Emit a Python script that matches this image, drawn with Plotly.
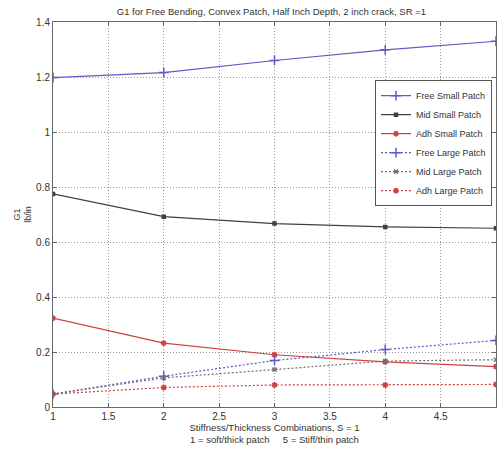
import plotly.graph_objects as go

x_vals = [1, 2, 3, 4, 5]
free_small = [1.198, 1.216, 1.260, 1.299, 1.330]
mid_small = [0.775, 0.692, 0.667, 0.655, 0.650]
adh_small = [0.323, 0.232, 0.190, 0.164, 0.147]
free_large = [0.047, 0.112, 0.169, 0.209, 0.242]
mid_large = [0.047, 0.106, 0.136, 0.167, 0.172]
adh_large = [0.047, 0.071, 0.080, 0.080, 0.082]

names = ["Free Small Patch", "Mid Small Patch", "Adh Small Patch",
         "Free Large Patch", "Mid Large Patch", "Adh Large Patch"]
series = [free_small, mid_small, adh_small, free_large, mid_large, adh_large]

BLUE = "#5a5ac8"
BLACK = "#404040"
RED = "#d04040"
colors = [BLUE, BLACK, RED, BLUE, "#707070", RED]
dashes = ["solid", "solid", "solid", "2px,2px", "2px,2px", "2px,2px"]
symbols = ["cross-thin-open", "square", "asterisk-open",
           "cross-thin-open", "x-thin-open", "asterisk-open"]
sizes = [7, 3, 5, 7, 4, 5]

fig = go.Figure()
for name, ys, c, d, s, sz in zip(names, series, colors, dashes, symbols, sizes):
    fig.add_trace(go.Scatter(
        x=x_vals, y=ys, name=name, mode="lines+markers",
        line=dict(color=c, width=1.2, dash=d),
        marker=dict(symbol=s, size=sz, color=c, line=dict(color=c, width=1.5)),
    ))

font = dict(family="Liberation Sans, Arial, sans-serif", size=10, color="#333333")

fig.update_layout(
    width=498, height=449,
    margin=dict(l=53, r=2, t=22, b=42, autoexpand=False),
    paper_bgcolor="white", plot_bgcolor="white",
    font=font,
    title=dict(text="G1 for Free Bending, Convex Patch, Half Inch Depth, 2 inch crack, SR =1",
               x=0.545, xanchor="center", y=0.982, yanchor="top",
               font=dict(size=9.5, color="#333333")),
    showlegend=True,
    legend=dict(x=0.991, y=0.849, xanchor="right", yanchor="top",
                bgcolor="white", bordercolor="#555555", borderwidth=1,
                font=dict(size=9, color="#333333"),
                tracegroupgap=0, itemwidth=30),
)

grid_kw = dict(showgrid=True, gridcolor="#9a9a9a", griddash="1px,2px", gridwidth=1,
               showline=True, linecolor="#666666", linewidth=1, mirror="ticks",
               ticks="inside", ticklen=4, tickcolor="#666666", automargin=False,
               zeroline=False, tickfont=dict(size=10, color="#333333"))

fig.update_xaxes(
    range=[1, 5], tickmode="array",
    tickvals=[1, 1.5, 2, 2.5, 3, 3.5, 4, 4.5, 5],
    ticktext=["1", "1.5", "2", "2.5", "3", "3.5", "4", "4.5", "5"],
    title=dict(text="Stiffness/Thickness Combinations, S = 1<br>1 = soft/thick patch     5 = Stiff/thin patch",
               font=dict(size=9.5, color="#333333"), standoff=0),
    **grid_kw,
)
fig.update_yaxes(
    range=[0, 1.4], tickmode="array",
    tickvals=[0, 0.2, 0.4, 0.6, 0.8, 1, 1.2, 1.4],
    ticktext=["0", "0.2", "0.4", "0.6", "0.8", "1", "1.2", "1.4"],
    title=dict(text="G1<br>lb/in", font=dict(size=9, color="#333333"), standoff=2),
    **grid_kw,
)

fig.write_html("out.html", config={"displayModeBar": False},
               post_script="document.body.style.margin='0';document.body.style.padding='0';")
